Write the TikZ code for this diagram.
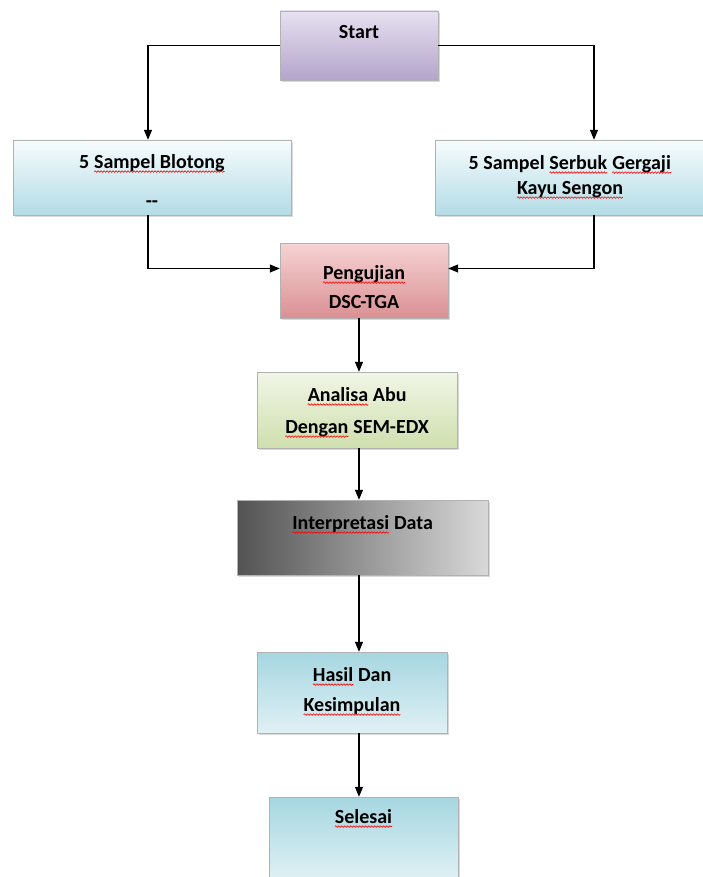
\documentclass[tikz,border=0pt]{standalone}
\usepackage{fontspec}
\setmainfont{Carlito}
\usetikzlibrary{arrows.meta,shadows,decorations.pathmorphing}

\definecolor{lilacTop}{HTML}{E6E1F0}
\definecolor{lilacBot}{HTML}{B4A4CB}
\definecolor{iceTop}{HTML}{F7FCFD}
\definecolor{iceBot}{HTML}{B3DCE6}
\definecolor{roseTop}{HTML}{F6D3D4}
\definecolor{roseBot}{HTML}{DA9093}
\definecolor{limeTop}{HTML}{F1F6E6}
\definecolor{limeBot}{HTML}{CFDFAE}
\definecolor{aquaTop}{HTML}{A6D6E1}
\definecolor{aquaBot}{HTML}{E0F1F5}

% red spell-check wave under a word
\newcommand\typo[1]{\tikz[baseline=(w.base),x=1pt,y=1pt]{%
    \node[inner sep=0pt, outer sep=0pt] (w) {#1};
    \draw[red, line width=0.6pt, decorate,
        decoration={snake, amplitude=0.8pt, segment length=3pt}]
        ([yshift=-3.5pt]w.base west) -- ([yshift=-3.5pt]w.base east);}}
% text set at the top of a box
\newcommand\inbox[4]{\parbox[c][#2][t]{#1}{\centering\vspace*{#3}#4}}

\begin{document}
\begin{tikzpicture}[x=1pt,y=-1pt,
    flow/.style={rectangle, draw=gray!60, inner sep=0pt,
        font=\fontsize{20}{24}\selectfont\bfseries,
        drop shadow={shadow xshift=2pt, shadow yshift=-2pt, opacity=0.3}},
    link/.style={line width=1.2pt, -{Triangle[length=10pt,width=8pt]}}]
    \useasboundingbox (0,0) rectangle (703,877);

    \node[flow, top color=lilacTop, bottom color=lilacBot] (start) at (359,45.5)
        {\inbox{158pt}{69pt}{14pt}{Start}};
    \node[flow, top color=iceTop, bottom color=iceBot] (blotong) at (152,177.5)
        {\inbox{278pt}{75pt}{14pt}{5 \typo{Sampel Blotong}\\[15pt] -{}-}};
    \node[flow, top color=iceTop, bottom color=iceBot] (sengon) at (570,177.5)
        {\inbox{270pt}{75pt}{15pt}{5 Sampel \typo{Serbuk} \typo{Gergaji}\\[1pt] \typo{Kayu Sengon}}};
    \node[flow, top color=roseTop, bottom color=roseBot] (uji) at (364,280.5)
        {\inbox{168pt}{75pt}{22pt}{\typo{Pengujian}\\[5pt] DSC-TGA}};
    \node[flow, top color=limeTop, bottom color=limeBot] (abu) at (357,410)
        {\inbox{200pt}{76pt}{15pt}{\typo{Analisa} Abu\\[8pt] \typo{Dengan} SEM-EDX}};
    \node[flow, left color=gray!65!black, right color=gray!30] (data) at (362.5,537.5)
        {\inbox{251pt}{75pt}{15pt}{\typo{Interpretasi} Data}};
    \node[flow, top color=aquaTop, bottom color=aquaBot] (hasil) at (352,692.5)
        {\inbox{190pt}{81pt}{15pt}{\typo{Hasil} Dan\\[6pt] \typo{Kesimpulan}}};
    \node[flow, top color=aquaTop, bottom color=aquaBot] (selesai) at (363.5,838.5)
        {\inbox{189pt}{83pt}{12pt}{\typo{Selesai}}};

    % arrows
    \draw[link] (start.west) -| ([xshift=-4pt]blotong.north);
    \draw[link] (start.east) -| ([xshift=24pt]sengon.north);
    \draw[link] ([xshift=-4pt]blotong.south) |- ([yshift=12pt]uji.west);
    \draw[link] ([xshift=24pt]sengon.south) |- ([yshift=12pt]uji.east);
    \draw[link] (uji.south -| start) -- (abu.north -| start);
    \draw[link] (abu.south -| start) -- (data.north -| start);
    \draw[link] (data.south -| start) -- (hasil.north -| start);
    \draw[link] (hasil.south -| start) -- (selesai.north -| start);
\end{tikzpicture}
\end{document}
